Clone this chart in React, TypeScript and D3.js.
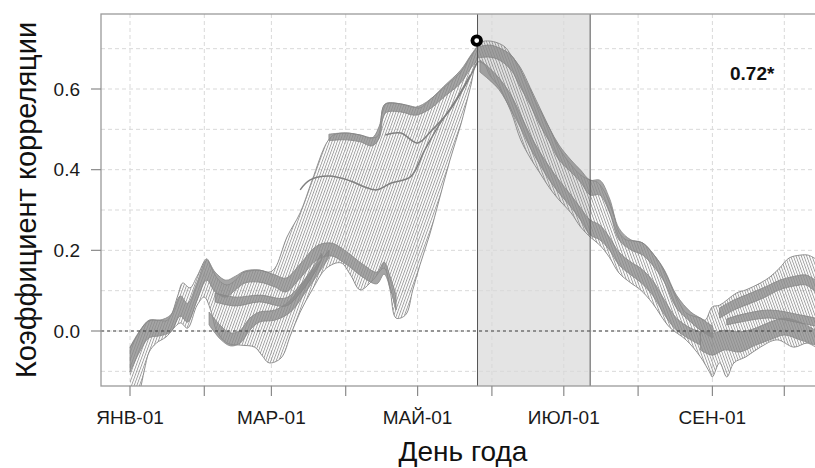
import React from "react";
import * as d3 from "d3";

// Month starts (day of year) and their labels; unlabeled ticks sit between
const monthDays = [1, 32, 60, 91, 121, 152, 182, 213, 244, 274];
const monthLabels = ["ЯНВ-01", "", "МАР-01", "", "МАЙ-01", "", "ИЮЛ-01", "", "СЕН-01", ""];
const yTickValues = [0, 0.2, 0.4, 0.6];
const yGridValues = [-0.1, 0, 0.1, 0.2, 0.3, 0.4, 0.5, 0.6, 0.7];

// Highlighted window and the best correlation
const windowDays = [146, 193];
const peakDay = 146;
const peakR = 0.72;
const peakLabel = "0.72*";

// Outer envelope of the family of correlation curves: [day, r]
const envelopeUpper: [number, number][] = [
  [1, -0.042], [3, -0.022], [5, -0.002], [7, 0.015], [9, 0.025], [13, 0.027], [16, 0.025],
  [18, 0.037], [21, 0.089], [23, 0.119], [26, 0.107], [29, 0.136], [33, 0.179], [35, 0.156],
  [38, 0.126], [41.5, 0.114], [45, 0.126], [48, 0.144], [51, 0.149], [55, 0.151], [59, 0.146],
  [61.5, 0.156], [66.5, 0.233], [72, 0.293], [77, 0.374], [83, 0.466], [86, 0.486], [91, 0.491],
  [97, 0.486], [102, 0.479], [104.5, 0.484], [107, 0.56], [110, 0.565], [114, 0.563], [118, 0.558],
  [122, 0.553], [126, 0.573], [130, 0.593], [134.5, 0.617], [139, 0.642], [143, 0.679], [146, 0.704],
  [148, 0.717], [151, 0.719], [154.5, 0.714], [157.5, 0.704], [160, 0.684], [164, 0.652], [168, 0.603],
  [172, 0.553], [176, 0.503], [180, 0.454], [185, 0.412], [189, 0.387], [193, 0.374], [196, 0.369],
  [199, 0.345], [202.5, 0.295], [205, 0.245], [208, 0.226], [212, 0.223], [215, 0.218], [219, 0.193],
  [223, 0.159], [229, 0.084], [233, 0.045], [239, 0.032], [241, 0.027], [244, 0.06], [247, 0.064],
  [254, 0.094], [258, 0.102], [264, 0.119], [268, 0.134], [272, 0.156], [276, 0.181], [280.5, 0.188],
  [284, 0.188], [287, 0.179],
];
const envelopeLower: [number, number][] = [
  [1, -0.221], [5, -0.151], [7, -0.097], [9, -0.052], [12, -0.03], [16, -0.015], [22, 0.02],
  [25, 0.007], [29, 0.064], [32, 0.084], [35, 0.045], [37, 0.002], [41.5, -0.03], [47, -0.035],
  [53, -0.04], [56, -0.06], [59, -0.079], [64, -0.067], [68, -0.01], [72, 0.047], [77, 0.102],
  [83, 0.156], [89, 0.169], [93, 0.139], [97, 0.102], [102, 0.124], [107, 0.156], [109.5, 0.102],
  [112, 0.032], [116, 0.04], [119, 0.102], [122, 0.164], [126, 0.238], [130, 0.325], [134.5, 0.424],
  [139, 0.511], [143, 0.603], [146, 0.667], [149, 0.66], [151, 0.635], [155, 0.605], [160, 0.543],
  [164, 0.474], [168, 0.429], [172, 0.392], [176, 0.355], [180, 0.325], [185, 0.293], [189, 0.258],
  [193, 0.233], [197, 0.213], [201, 0.183], [205, 0.144], [210, 0.119], [214, 0.102], [219, 0.069],
  [226, 0.01], [233, -0.022], [239, -0.064], [243, -0.104], [244, -0.114], [247, -0.079], [250, -0.114],
  [253, -0.079], [258, -0.064], [264, -0.04], [271, -0.022], [278, -0.04], [283.5, -0.03], [287, -0.04],
];

// Dense clusters of curves: [day, upper r, lower r]
const clusterWinter: [number, number, number][] = [
  [1, -0.04, -0.102], [5, 0.0, -0.052], [9, 0.027, -0.017], [13.5, 0.027, -0.012], [18, 0.04, -0.002],
  [22, 0.087, 0.037], [25, 0.069, 0.022], [29, 0.121, 0.077], [33, 0.176, 0.126], [36.5, 0.146, 0.097],
  [41, 0.126, 0.084], [45, 0.136, 0.102], [49, 0.149, 0.119], [55, 0.151, 0.121], [61.5, 0.139, 0.109],
  [66, 0.131, 0.097], [72, 0.166, 0.131], [79, 0.211, 0.176], [85, 0.218, 0.186], [91.5, 0.196, 0.164],
  [98, 0.166, 0.134], [104, 0.146, 0.117], [107, 0.171, 0.141], [109.5, 0.136, 0.107], [112, 0.089, 0.052],
];
const clusterFebLow: [number, number, number][] = [
  [34, 0.047, 0.015], [39, 0.012, -0.022], [43, -0.005, -0.037], [47, 0.002, -0.03], [51, 0.032, 0.002],
  [55, 0.047, 0.022], [61.5, 0.052, 0.027], [68, 0.077, 0.047], [74, 0.126, 0.094], [80, 0.171, 0.146],
  [84, 0.2, 0.182],
];
const clusterFebMid: [number, number, number][] = [
  [36.5, 0.094, 0.072], [45, 0.084, 0.062], [55, 0.089, 0.072], [66, 0.082, 0.062], [72, 0.114, 0.094],
  [78, 0.164, 0.144], [81, 0.192, 0.176],
];
const clusterSpringTop: [number, number, number][] = [
  [84, 0.488, 0.472], [91, 0.491, 0.474], [97, 0.486, 0.469], [102, 0.479, 0.459], [105, 0.508, 0.478],
  [107.5, 0.563, 0.54], [114, 0.563, 0.543], [120, 0.555, 0.535], [126, 0.573, 0.55], [132, 0.607, 0.58],
  [139, 0.647, 0.615], [143, 0.682, 0.65], [146, 0.707, 0.672],
];
const clusterSummerHigh: [number, number, number][] = [
  [146, 0.704, 0.677], [151, 0.709, 0.679], [155, 0.702, 0.672], [160, 0.684, 0.647], [164, 0.647, 0.603],
  [168, 0.598, 0.56], [172, 0.548, 0.511], [176, 0.503, 0.469], [180, 0.461, 0.424], [185, 0.424, 0.394],
  [189, 0.399, 0.369], [193, 0.374, 0.337], [197, 0.374, 0.337], [201, 0.33, 0.295], [205, 0.255, 0.226],
  [210, 0.226, 0.201], [215, 0.218, 0.188], [220, 0.186, 0.156], [224, 0.151, 0.121], [229, 0.089, 0.057],
  [235, 0.047, 0.022], [239, 0.032, 0.002], [244, 0.012, -0.017],
];
const clusterSummerLow: [number, number, number][] = [
  [147, 0.672, 0.642], [151, 0.652, 0.622], [155, 0.627, 0.598], [160, 0.585, 0.548], [164, 0.536, 0.503],
  [168, 0.486, 0.454], [172, 0.444, 0.412], [176, 0.407, 0.374], [180, 0.374, 0.342], [185, 0.337, 0.307],
  [189, 0.305, 0.275], [193, 0.275, 0.238], [197, 0.263, 0.226], [201, 0.233, 0.201], [205, 0.196, 0.164],
  [210, 0.171, 0.139], [214, 0.156, 0.121], [219, 0.126, 0.089], [224, 0.077, 0.04], [229, 0.032, 0.002],
  [235, 0.007, -0.022], [239, -0.002, -0.035],
];
const clusterAutumnLow: [number, number, number][] = [
  [239, 0.002, -0.047], [244, -0.005, -0.06], [249, 0.002, -0.047], [255.5, -0.002, -0.052],
  [262, 0.007, -0.035], [268, 0.022, -0.022], [274, 0.032, -0.01], [280.5, 0.022, -0.022], [287, 0.002, -0.035],
];
const clusterAutumnMid: [number, number, number][] = [
  [250, 0.03, 0.015], [255.5, 0.04, 0.022], [268, 0.052, 0.032], [280.5, 0.04, 0.02], [287, 0.032, 0.012],
];
const clusterAutumnHigh: [number, number, number][] = [
  [247, 0.057, 0.032], [253, 0.077, 0.052], [260, 0.094, 0.069], [266, 0.109, 0.084], [272, 0.126, 0.102],
  [278.5, 0.136, 0.112], [283, 0.139, 0.114], [287, 0.126, 0.097],
];

// Single curves standing out inside the spring spread
const springCurveA: [number, number][] = [
  [72, 0.35], [76, 0.374], [84, 0.384], [93, 0.372], [99, 0.357], [104, 0.35], [110, 0.367],
  [118, 0.382], [124, 0.449], [130, 0.511], [137, 0.573], [143, 0.635],
];
const springCurveB: [number, number][] = [
  [107.5, 0.486], [114, 0.491], [121, 0.466], [127, 0.498], [134.5, 0.548], [141, 0.61], [146, 0.667],
];

const FONT = "'Liberation Sans', Arial, Helvetica, sans-serif";
const LINE_GREY = "#858585";

export default function App() {
  const W = 815;
  const H = 468;
  const left = 101;
  const top = 14;
  const bottom = 386;
  const right = 826;

  const x = d3.scaleLinear().domain([1, 274]).range([130, 784.3]);
  const y = d3.scaleLinear().domain([0, 0.6]).range([331, 89]);

  const curve = d3.curveCatmullRom.alpha(0.5);
  const line = d3
    .line<[number, number]>()
    .x((d) => x(d[0]))
    .y((d) => y(d[1]))
    .curve(curve);
  const band = d3
    .area<[number, number, number]>()
    .x((d) => x(d[0]))
    .y1((d) => y(d[1]))
    .y0((d) => y(d[2]))
    .curve(curve);

  const envelopePath =
    (line(envelopeUpper) as string) +
    (line([...envelopeLower].reverse()) as string).replace(/^M/, "L") +
    "Z";

  const clusters = [
    clusterWinter,
    clusterFebLow,
    clusterFebMid,
    clusterSpringTop,
    clusterSummerHigh,
    clusterSummerLow,
    clusterAutumnLow,
    clusterAutumnMid,
    clusterAutumnHigh,
  ];

  const xPeak = x(peakDay);

  return (
    <svg
      width={W}
      height={H}
      viewBox={`0 0 ${W} ${H}`}
      style={{ position: "absolute", left: 0, top: 0, background: "#fff" }}
      fontFamily={FONT}
    >
      <defs>
        <clipPath id="plotArea">
          <rect x={left} y={top} width={right - left} height={bottom - top} />
        </clipPath>
        <clipPath id="beforePeak">
          <rect x={left} y={top} width={xPeak - left} height={bottom - top} />
        </clipPath>
        <clipPath id="afterPeak">
          <rect x={xPeak} y={top} width={right - xPeak} height={bottom - top} />
        </clipPath>
        <pattern id="hatchRise" patternUnits="userSpaceOnUse" width={2.5} height={12} patternTransform="rotate(20)">
          <line x1={0.5} y1={0} x2={0.5} y2={12} stroke={LINE_GREY} strokeWidth={0.8} />
        </pattern>
        <pattern id="hatchFall" patternUnits="userSpaceOnUse" width={2.5} height={12} patternTransform="rotate(-20)">
          <line x1={0.5} y1={0} x2={0.5} y2={12} stroke={LINE_GREY} strokeWidth={0.8} />
        </pattern>
      </defs>

      <rect x={0} y={0} width={W} height={H} fill="#fff" />

      {/* highlighted window */}
      <rect
        x={x(windowDays[0])}
        y={top}
        width={x(windowDays[1]) - x(windowDays[0])}
        height={bottom - top}
        fill="#e4e4e4"
      />

      {/* grid */}
      <g stroke="#d9d9d9" strokeWidth={1} strokeDasharray="4,3">
        {yGridValues.map((v) => (
          <line key={"gy" + v} x1={left} x2={right} y1={y(v)} y2={y(v)} />
        ))}
        {monthDays.map((d) => (
          <line key={"gx" + d} x1={x(d)} x2={x(d)} y1={top} y2={bottom} />
        ))}
      </g>

      <g clipPath="url(#plotArea)">
        {/* spread of the curve family */}
        <g clipPath="url(#beforePeak)">
          <path d={envelopePath} fill="url(#hatchRise)" />
        </g>
        <g clipPath="url(#afterPeak)">
          <path d={envelopePath} fill="url(#hatchFall)" />
        </g>
        <path d={line(envelopeUpper) as string} fill="none" stroke={LINE_GREY} strokeWidth={0.9} />
        <path d={line(envelopeLower) as string} fill="none" stroke={LINE_GREY} strokeWidth={0.9} />

        {/* dense clusters */}
        {clusters.map((c, i) => (
          <path
            key={"c" + i}
            d={band(c) as string}
            fill="#8c8c8c"
            fillOpacity={0.78}
            stroke="#858585"
            strokeWidth={0.8}
          />
        ))}

        <path d={line(springCurveA) as string} fill="none" stroke="#808080" strokeWidth={1.5} />
        <path d={line(springCurveB) as string} fill="none" stroke="#808080" strokeWidth={1.5} />

        {/* zero reference */}
        <line x1={left} x2={right} y1={y(0)} y2={y(0)} stroke="#3d3d3d" strokeWidth={1.2} strokeDasharray="3,3" />
      </g>

      {/* window borders */}
      {windowDays.map((d) => (
        <line key={"w" + d} x1={x(d)} x2={x(d)} y1={top} y2={bottom} stroke="#555" strokeWidth={1} />
      ))}

      {/* frame */}
      <rect x={left} y={top} width={right - left} height={bottom - top} fill="none" stroke="#9a9a9a" strokeWidth={1.3} />

      {/* y axis */}
      {yTickValues.map((v) => (
        <g key={"yt" + v}>
          <line x1={left - 10} x2={left} y1={y(v)} y2={y(v)} stroke="#8a8a8a" strokeWidth={1.2} />
          <text x={80} y={y(v) + 6.8} textAnchor="end" fontSize={19} fill="#1a1a1a">
            {d3.format(".1f")(v)}
          </text>
        </g>
      ))}

      {/* x axis */}
      {monthDays.map((d, i) => (
        <g key={"xt" + d}>
          <line x1={x(d)} x2={x(d)} y1={bottom} y2={bottom + 10} stroke="#8a8a8a" strokeWidth={1.2} />
          {monthLabels[i] && (
            <text x={x(d)} y={424} textAnchor="middle" fontSize={19} fill="#1a1a1a">
              {monthLabels[i]}
            </text>
          )}
        </g>
      ))}

      {/* best correlation marker */}
      <circle cx={x(peakDay) - 0.8} cy={y(peakR)} r={4.3} fill="#fff" stroke="#000" strokeWidth={3.8} />
      <text x={730} y={80} fontSize={19} fontWeight="bold" fill="#111">
        {peakLabel}
      </text>

      {/* axis titles */}
      <text x={463} y={461} textAnchor="middle" fontSize={28} fill="#111">
        День года
      </text>
      <text transform="translate(36,200) rotate(-90)" textAnchor="middle" fontSize={29} fill="#111">
        Коэффициент корреляции
      </text>
    </svg>
  );
}
